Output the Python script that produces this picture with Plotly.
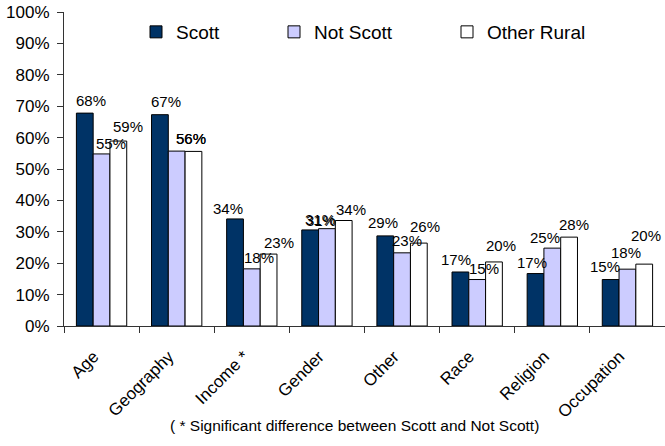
import plotly.graph_objects as go

categories = ["Age", "Geography", "Income *", "Gender", "Other", "Race", "Religion", "Occupation"]
scott = [67.8, 67.3, 34.1, 30.6, 28.7, 17.2, 16.7, 14.8]
not_scott = [54.8, 55.7, 18.2, 31.0, 23.3, 14.8, 24.8, 18.1]
other_rural = [58.9, 55.6, 22.9, 33.6, 26.4, 20.4, 28.3, 19.7]
series_names = ["Scott", "Not Scott", "Other Rural"]
series_colors = ["#003366", "#CCCCFF", "#FFFFFF"]
footnote = "( * Significant difference between Scott and Not Scott)"

# label nudges (px) as placed in the original, per category: [Scott, Not Scott, Other Rural]
label_dx = [[6, 9, 10], [6.5, 14, -2.5], [-7, 7.5, 10], [10.5, -6.5, 7],
            [-2, 4.5, 6.5], [-4.5, 6.5, 7.5], [-3.5, -7, 4.5], [-5.5, -1.5, 2]]
label_gap = [[7, 5, 9], [8, 7, 7], [5, 6, 6], [4, 4, 6],
             [8, 7, 11], [7, 6, 11], [6, 5, 7], [8, 11, 23]]

W, H = 665, 446
ML, MR, MT, MB = 64, 0, 12, 120
PW, PH = W - ML - MR, H - MT - MB
FONT = "Arial, Liberation Sans, sans-serif"
AXIS = "#333333"

fig = go.Figure()
series = [scott, not_scott, other_rural]
legend_ids = ["legend", "legend2", "legend3"]
for name, vals, col, lid in zip(series_names, series, series_colors, legend_ids):
    fig.add_trace(go.Bar(
        x=categories, y=vals, name=name, legend=lid, showlegend=True,
        marker=dict(color=col, line=dict(color="#000000", width=1)),
    ))

bargap = 0.33
cat_w = PW / len(categories)
bar_w = cat_w * (1 - bargap) / 3
for i, vals in enumerate(series):
    for j, (c, v) in enumerate(zip(categories, vals)):
        fig.add_annotation(
            x=c, y=v, xref="x", yref="y", text=f"{round(v)}%",
            showarrow=False, yanchor="bottom", xanchor="center",
            xshift=(i - 1) * bar_w + label_dx[j][i], yshift=label_gap[j][i] - 5,
            font=dict(size=15, color="#000000", family=FONT),
        )

fig.add_annotation(
    x=(354.5 - ML) / PW, y=(MT + PH - 425) / PH,
    xref="paper", yref="paper", text=footnote, showarrow=False,
    xanchor="center", yanchor="middle",
    font=dict(size=15.5, color="#000000", family=FONT),
)

leg_common = dict(orientation="h", yanchor="middle", xanchor="left",
                  bgcolor="rgba(0,0,0,0)", borderwidth=0, visible=True,
                  font=dict(size=19, color="#000000", family=FONT))
leg_px = [136, 274, 447]
leg_y = 1 - (32 - MT) / PH
fig.update_layout(
    width=W, height=H, showlegend=True,
    margin=dict(l=ML, r=MR, t=MT, b=MB, pad=0),
    paper_bgcolor="white", plot_bgcolor="white",
    barmode="group", bargap=bargap, bargroupgap=0,
    font=dict(family=FONT, color="#000000"),
    legend=dict(x=(leg_px[0] - ML) / PW, y=leg_y, **leg_common),
    legend2=dict(x=(leg_px[1] - ML) / PW, y=leg_y, **leg_common),
    legend3=dict(x=(leg_px[2] - ML) / PW, y=leg_y, **leg_common),
    xaxis=dict(showline=True, linecolor=AXIS, linewidth=1,
               ticks="outside", tickson="boundaries", ticklen=6, tickcolor=AXIS,
               tickangle=-45, tickfont=dict(size=17, family=FONT, color="#000000"),
               ticklabelstandoff=13, ticklabelshift=-8,
               showgrid=False, zeroline=False, automargin=False),
    yaxis=dict(range=[0, 100], dtick=10, ticksuffix="%", showline=True,
               linecolor=AXIS, linewidth=1, ticks="outside", ticklen=6,
               tickcolor=AXIS, tickfont=dict(size=17, family=FONT, color="#000000"),
               ticklabelstandoff=4,
               showgrid=False, zeroline=False, automargin=False),
)

fig.write_html("out.html", config={"displayModeBar": False},
               post_script="document.body.style.margin='0px';")
